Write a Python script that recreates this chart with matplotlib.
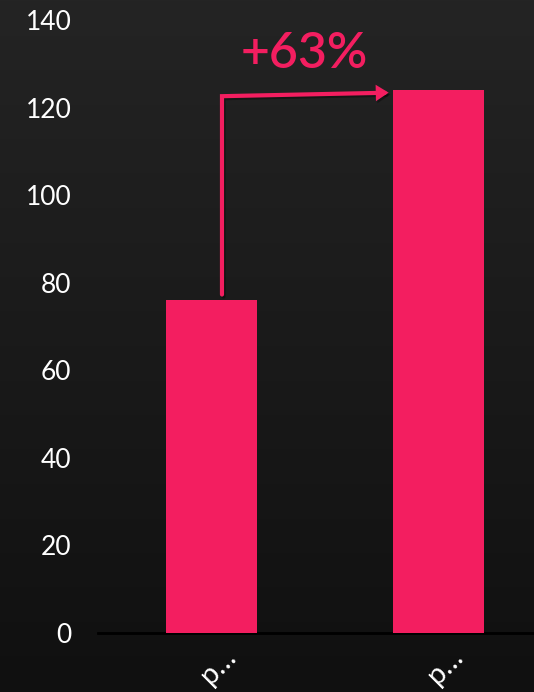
import numpy as np
import matplotlib.pyplot as plt
import matplotlib.transforms as mtransforms
from matplotlib.colors import LinearSegmentedColormap
from matplotlib.patches import FancyArrowPatch
from matplotlib.path import Path

labels = ["p…", "p…"]
values = [76, 124]
growth_label = "+63%"
yticks = [0, 20, 40, 60, 80, 100, 120, 140]

pink = "#f31e60"

plt.rcParams["font.family"] = ["Lato", "DejaVu Sans"]

fig = plt.figure(figsize=(5.34, 6.92), dpi=100)

# dark vertical gradient behind everything
bg = fig.add_axes([0, 0, 1, 1], zorder=-10)
grad = np.linspace(0, 1, 256).reshape(-1, 1)
cmap = LinearSegmentedColormap.from_list("bg", ["#242424", "#1a1a1a", "#101010"])
bg.imshow(grad, aspect="auto", cmap=cmap, extent=[0, 1, 0, 1], origin="upper")
bg.axis("off")

ax = fig.add_axes([98 / 534, 1 - 633 / 692, 1 - 98 / 534, (633 - 20) / 692])
ax.patch.set_alpha(0)

x = np.arange(len(values))
ax.bar(x, values, width=0.4, color=pink, zorder=3)

ax.set_xlim(-0.5, 1.42)
ax.set_ylim(0, 140)
ax.set_yticks(yticks)
ax.set_xticks(x)
ax.set_xticklabels(labels)
ax.tick_params(axis="y", length=0, pad=19, labelsize=19, colors="white")
ax.tick_params(axis="x", length=0, pad=8, labelsize=21, colors="white")
shift = mtransforms.ScaledTranslation(7 / 100, 0, fig.dpi_scale_trans)
for lab in ax.get_xticklabels():
    lab.set_rotation(45)
    lab.set_ha("center")
    lab.set_va("top")
    lab.set_transform(lab.get_transform() + shift)

for side in ["top", "right", "left"]:
    ax.spines[side].set_visible(False)
ax.spines["bottom"].set_color("black")
ax.spines["bottom"].set_linewidth(2)

# elbow arrow from the first bar up and over to the second
x0 = 0.046


def elbow_arrow(color, transform, z):
    path = Path([(x0, values[0] + 1.3), (x0, 122.6), (0.78, 123.4)],
                [Path.MOVETO, Path.LINETO, Path.LINETO])
    a = FancyArrowPatch(path=path, arrowstyle="-|>,head_length=5,head_width=3.2",
                        color=color, lw=3, joinstyle="miter", zorder=z,
                        transform=transform)
    ax.add_patch(a)


drop = mtransforms.ScaledTranslation(1.5 / 100, -2 / 100, fig.dpi_scale_trans)
elbow_arrow((0, 0, 0, 0.35), ax.transData + drop, 4)
elbow_arrow(pink, ax.transData, 5)

ax.text(0.41, 132.4, growth_label, color=pink, fontsize=36, fontweight="semibold",
        ha="center", va="center", zorder=5)

fig.savefig("out.png", dpi=100)
